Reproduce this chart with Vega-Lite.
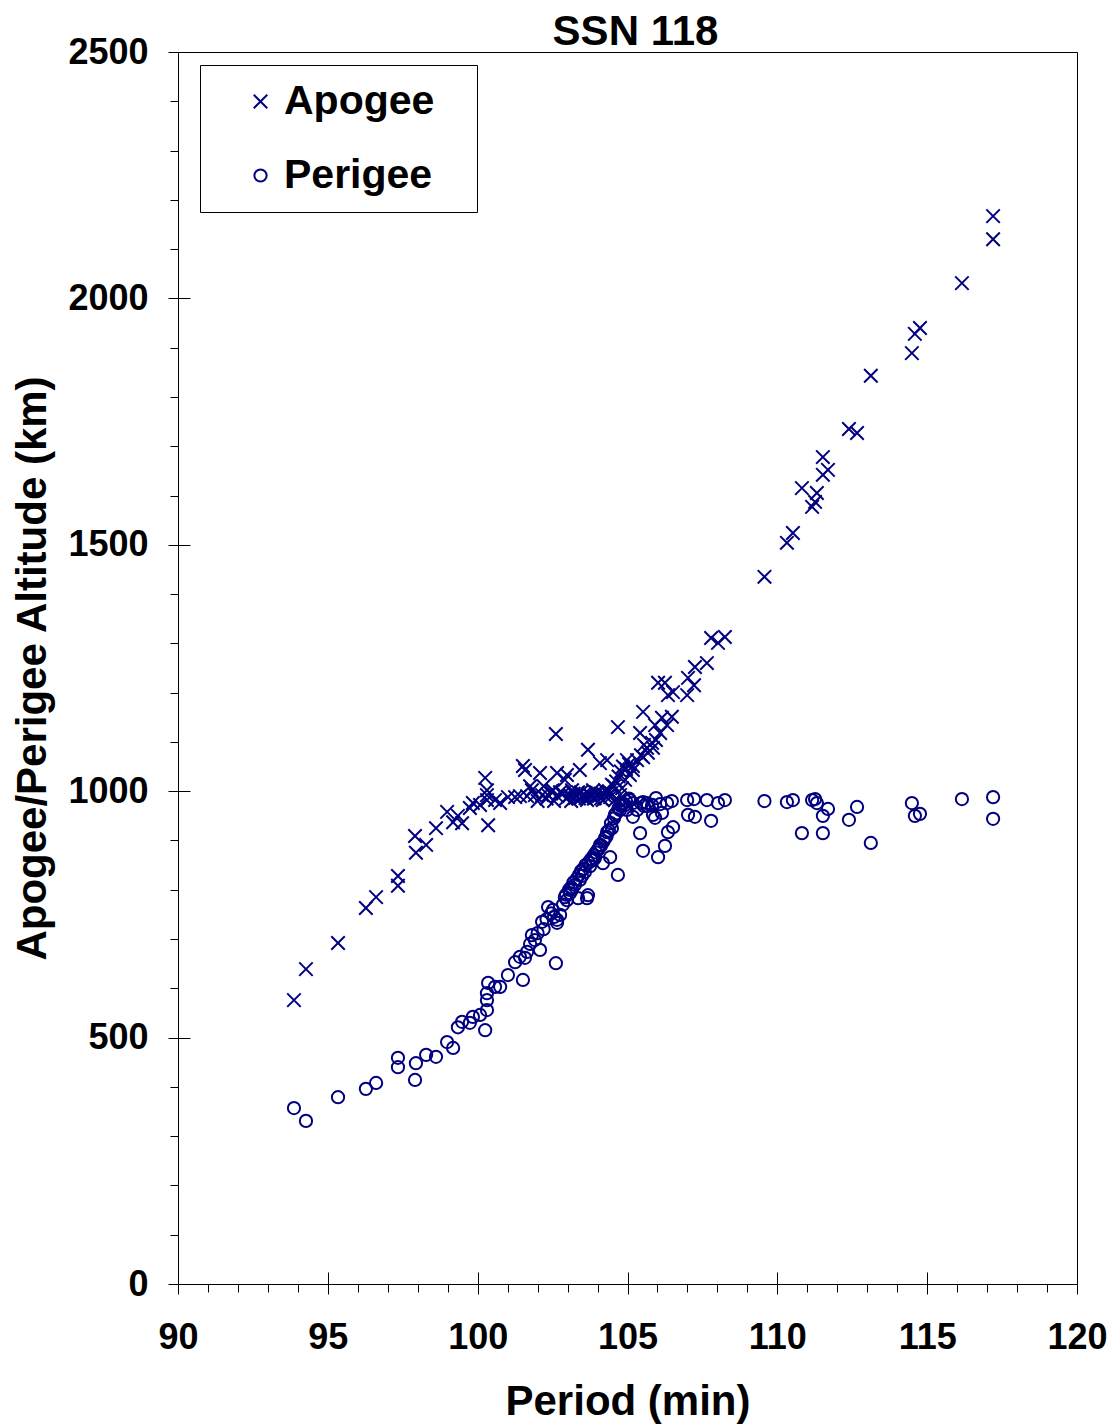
{
 "$schema": "https://vega.github.io/schema/vega-lite/v6.json",
 "width": 899, "height": 1232,
 "autosize": {"type": "none"},
 "padding": {"left": 178, "top": 52, "right": 38, "bottom": 142},
 "background": "white",
 "config": {
  "font": "Liberation Sans",
  "view": {"stroke": "black", "strokeWidth": 1},
  "axis": {"grid": false, "domainColor": "black", "tickColor": "black", "labelColor": "black", "titleColor": "black",
   "labelFont": "Liberation Sans", "labelFontWeight": "bold", "labelFontSize": 36,
   "titleFont": "Liberation Sans", "titleFontWeight": "bold", "titleFontSize": 42,
   "labelFlush": false, "labelOverlap": false, "labelBound": false, "format": "d"}
 },
 "title": {"text": "SSN 118", "fontSize": 42, "fontWeight": "bold", "font": "Liberation Sans", "color": "black", "anchor": "middle", "frame": "group", "baseline": "alphabetic", "offset": 10, "dx": 8, "dy": 63},
 "data": {"values": [
  {"p":93.87,"Apogee":576,"Perigee":357},{"p":94.27,"Apogee":639,"Perigee":331},{"p":95.34,"Apogee":692,"Perigee":379},
  {"p":96.27,"Apogee":763,"Perigee":396},{"p":96.61,"Apogee":785,"Perigee":408},{"p":97.34,"Apogee":828,"Perigee":440},
  {"p":97.34,"Apogee":808,"Perigee":459},{"p":97.91,"Apogee":909,"Perigee":414},{"p":97.94,"Apogee":875,"Perigee":448},
  {"p":98.28,"Apogee":891,"Perigee":465},{"p":98.61,"Apogee":925,"Perigee":461},{"p":98.98,"Apogee":958,"Perigee":491},
  {"p":99.18,"Apogee":937,"Perigee":479},{"p":99.34,"Apogee":950,"Perigee":521},{"p":99.48,"Apogee":935,"Perigee":532},
  {"p":99.74,"Apogee":966,"Perigee":530},{"p":99.84,"Apogee":976,"Perigee":542},{"p":100.08,"Apogee":972,"Perigee":546},
  {"p":100.25,"Apogee":1027,"Perigee":515},{"p":100.31,"Apogee":982,"Perigee":556},{"p":100.35,"Apogee":931,"Perigee":611},
  {"p":100.31,"Apogee":992,"Perigee":576},{"p":100.31,"Apogee":1002,"Perigee":590},{"p":100.58,"Apogee":982,"Perigee":603},
  {"p":100.75,"Apogee":976,"Perigee":603},{"p":101.01,"Apogee":988,"Perigee":627},{"p":101.25,"Apogee":988,"Perigee":653},
  {"p":101.41,"Apogee":990,"Perigee":664},{"p":101.51,"Apogee":1051,"Perigee":617},{"p":101.58,"Apogee":1043,"Perigee":662},
  {"p":101.65,"Apogee":990,"Perigee":674},{"p":101.75,"Apogee":1010,"Perigee":690},{"p":101.81,"Apogee":1002,"Perigee":708},
  {"p":101.91,"Apogee":992,"Perigee":698},{"p":102.0,"Apogee":980,"Perigee":712},{"p":102.08,"Apogee":1037,"Perigee":678},
  {"p":102.15,"Apogee":992,"Perigee":735},{"p":102.2,"Apogee":1010,"Perigee":720},{"p":102.3,"Apogee":985,"Perigee":740},
  {"p":102.35,"Apogee":992,"Perigee":765},{"p":102.45,"Apogee":1000,"Perigee":752},{"p":102.51,"Apogee":1002,"Perigee":759},
  {"p":102.55,"Apogee":980,"Perigee":745},{"p":102.61,"Apogee":1116,"Perigee":651},{"p":102.65,"Apogee":1037,"Perigee":733},
  {"p":102.65,"Apogee":990,"Perigee":739},{"p":102.75,"Apogee":998,"Perigee":749},{"p":102.85,"Apogee":995,"Perigee":770},
  {"p":102.91,"Apogee":1023,"Perigee":785},{"p":102.95,"Apogee":985,"Perigee":790},{"p":102.98,"Apogee":1033,"Perigee":779},
  {"p":103.05,"Apogee":990,"Perigee":800},{"p":103.08,"Apogee":992,"Perigee":793},{"p":103.12,"Apogee":980,"Perigee":805},
  {"p":103.15,"Apogee":1002,"Perigee":800},{"p":103.2,"Apogee":995,"Perigee":815},{"p":103.25,"Apogee":986,"Perigee":810},
  {"p":103.3,"Apogee":990,"Perigee":822},{"p":103.35,"Apogee":998,"Perigee":783},{"p":103.38,"Apogee":985,"Perigee":830},
  {"p":103.41,"Apogee":1043,"Perigee":820},{"p":103.45,"Apogee":998,"Perigee":838},{"p":103.48,"Apogee":988,"Perigee":828},
  {"p":103.52,"Apogee":992,"Perigee":842},{"p":103.58,"Apogee":992,"Perigee":836},{"p":103.6,"Apogee":986,"Perigee":850},
  {"p":103.65,"Apogee":982,"Perigee":783},{"p":103.68,"Apogee":1084,"Perigee":789},{"p":103.7,"Apogee":995,"Perigee":855},
  {"p":103.75,"Apogee":992,"Perigee":848},{"p":103.78,"Apogee":990,"Perigee":862},{"p":103.85,"Apogee":1002,"Perigee":860},
  {"p":103.88,"Apogee":985,"Perigee":870},{"p":103.91,"Apogee":986,"Perigee":864},{"p":103.95,"Apogee":998,"Perigee":876},
  {"p":104.01,"Apogee":996,"Perigee":881},{"p":104.05,"Apogee":990,"Perigee":884},{"p":104.08,"Apogee":1057,"Perigee":891},
  {"p":104.12,"Apogee":985,"Perigee":890},{"p":104.18,"Apogee":982,"Perigee":854},{"p":104.2,"Apogee":994,"Perigee":898},
  {"p":104.25,"Apogee":1002,"Perigee":905},{"p":104.3,"Apogee":988,"Perigee":908},{"p":104.32,"Apogee":1063,"Perigee":917},
  {"p":104.38,"Apogee":1000,"Perigee":920},{"p":104.42,"Apogee":988,"Perigee":866},{"p":104.45,"Apogee":996,"Perigee":935},
  {"p":104.48,"Apogee":1013,"Perigee":925},{"p":104.55,"Apogee":1010,"Perigee":945},{"p":104.58,"Apogee":982,"Perigee":952},
  {"p":104.62,"Apogee":1020,"Perigee":955},{"p":104.68,"Apogee":1130,"Perigee":830},{"p":104.7,"Apogee":1030,"Perigee":965},
  {"p":104.75,"Apogee":992,"Perigee":962},{"p":104.78,"Apogee":1040,"Perigee":970},{"p":104.82,"Apogee":1006,"Perigee":976},
  {"p":104.85,"Apogee":1050,"Perigee":975},{"p":104.92,"Apogee":1023,"Perigee":972},{"p":104.95,"Apogee":1045,"Perigee":980},
  {"p":104.98,"Apogee":1063,"Perigee":962},{"p":105.05,"Apogee":1055,"Perigee":985},{"p":105.08,"Apogee":1033,"Perigee":982},
  {"p":105.18,"Apogee":1043,"Perigee":948},{"p":105.18,"Apogee":1051,"Perigee":976},{"p":105.32,"Apogee":1063,"Perigee":962},
  {"p":105.42,"Apogee":1118,"Perigee":915},{"p":105.45,"Apogee":1073,"Perigee":976},{"p":105.52,"Apogee":1161,"Perigee":879},
  {"p":105.52,"Apogee":1069,"Perigee":978},{"p":105.55,"Apogee":1094,"Perigee":970},{"p":105.65,"Apogee":1088,"Perigee":976},
  {"p":105.68,"Apogee":1078,"Perigee":970},{"p":105.82,"Apogee":1098,"Perigee":972},{"p":105.85,"Apogee":1088,"Perigee":952},
  {"p":105.92,"Apogee":1134,"Perigee":946},{"p":105.95,"Apogee":1104,"Perigee":986},{"p":106.02,"Apogee":1220,"Perigee":866},
  {"p":106.09,"Apogee":1118,"Perigee":974},{"p":106.15,"Apogee":1149,"Perigee":956},{"p":106.25,"Apogee":1220,"Perigee":889},
  {"p":106.32,"Apogee":1134,"Perigee":976},{"p":106.35,"Apogee":1195,"Perigee":917},{"p":106.48,"Apogee":1151,"Perigee":980},
  {"p":106.52,"Apogee":1201,"Perigee":927},{"p":106.99,"Apogee":1195,"Perigee":982},{"p":107.02,"Apogee":1230,"Perigee":952},
  {"p":107.22,"Apogee":1215,"Perigee":984},{"p":107.25,"Apogee":1252,"Perigee":948},{"p":107.65,"Apogee":1260,"Perigee":982},
  {"p":107.79,"Apogee":1311,"Perigee":940},{"p":108.02,"Apogee":1301,"Perigee":976},{"p":108.25,"Apogee":1313,"Perigee":982},
  {"p":109.57,"Apogee":1435,"Perigee":980},{"p":110.32,"Apogee":1504,"Perigee":978},{"p":110.52,"Apogee":1524,"Perigee":982},
  {"p":110.82,"Apogee":1615,"Perigee":915},{"p":111.16,"Apogee":1577,"Perigee":982},{"p":111.26,"Apogee":1587,"Perigee":984},
  {"p":111.32,"Apogee":1605,"Perigee":976},{"p":111.52,"Apogee":1678,"Perigee":915},{"p":111.52,"Apogee":1642,"Perigee":950},
  {"p":111.69,"Apogee":1652,"Perigee":964},{"p":112.39,"Apogee":1735,"Perigee":942},{"p":112.66,"Apogee":1727,"Perigee":968},
  {"p":113.12,"Apogee":1843,"Perigee":895},{"p":114.49,"Apogee":1889,"Perigee":976},{"p":114.59,"Apogee":1928,"Perigee":950},
  {"p":114.76,"Apogee":1940,"Perigee":954},{"p":116.16,"Apogee":2031,"Perigee":984},{"p":117.2,"Apogee":2167,"Perigee":944},
  {"p":117.2,"Apogee":2120,"Perigee":988}
 ]},
 "transform": [{"fold": ["Apogee", "Perigee"], "as": ["type", "alt"]}],
 "layer": [
  {
   "mark": {"type": "point", "filled": false, "color": "#000080", "stroke": "#000080", "strokeWidth": 2, "size": 150, "opacity": 1},
   "encoding": {
    "x": {"field": "p", "type": "quantitative", "scale": {"domain": [90, 120], "nice": false, "zero": false},
     "axis": {"orient": "bottom", "values": [90, 95, 100, 105, 110, 115, 120], "tickSize": 10, "labelPadding": 26, "format": "d",
      "title": "Period (min)", "titleX": 449.5, "titleY": 130, "titleBaseline": "alphabetic", "titleAnchor": null}},
    "y": {"field": "alt", "type": "quantitative", "scale": {"domain": [0, 2500], "nice": false, "zero": false},
     "axis": {"orient": "left", "values": [0, 500, 1000, 1500, 2000, 2500], "tickSize": 10, "labelPadding": 20, "format": "d",
      "title": "Apogee/Perigee Altitude (km)", "titleX": -133, "titleY": 616, "titleAngle": -90, "titleBaseline": "alphabetic", "titleAlign": "center"}},
    "shape": {"field": "type", "type": "nominal",
     "scale": {"domain": ["Apogee", "Perigee"], "range": ["M-1.1,-1.1L1.1,1.1M-1.1,1.1L1.1,-1.1", "circle"]},
     "legend": {"orient": "none", "legendX": 22, "legendY": 13, "title": " ", "titleOrient": "right", "titlePadding": 27, "titleFontSize": 1,
      "padding": 16,
      "strokeColor": "black", "fillColor": "white", "symbolSize": 150, "symbolStrokeWidth": 2,
      "symbolStrokeColor": "#000080", "symbolFillColor": "transparent", "symbolOffset": 24, "labelOffset": 3,
      "labelFontSize": 41, "labelFont": "Liberation Sans", "labelFontWeight": "bold", "labelColor": "black", "labelLimit": 300,
      "rowPadding": 32}}
   }
  },
  {
   "mark": {"type": "point", "opacity": 0},
   "encoding": {
    "x": {"field": "p", "type": "quantitative",
     "axis": {"orient": "bottom", "values": [91,92,93,94,96,97,98,99,101,102,103,104,106,107,108,109,111,112,113,114,116,117,118,119], "tickSize": 8, "labels": false, "domain": false, "title": null}},
    "y": {"field": "alt", "type": "quantitative",
     "axis": {"orient": "left", "values": [100,200,300,400,600,700,800,900,1100,1200,1300,1400,1600,1700,1800,1900,2100,2200,2300,2400], "tickSize": 8, "labels": false, "domain": false, "title": null}}
   }
  },
  {
   "mark": {"type": "point", "opacity": 0},
   "encoding": {
    "x": {"field": "p", "type": "quantitative",
     "axis": {"orient": "bottom", "values": [90, 95, 100, 105, 110, 115, 120], "tickSize": -12, "labels": false, "domain": false, "title": null}},
    "y": {"field": "alt", "type": "quantitative",
     "axis": {"orient": "left", "values": [0, 500, 1000, 1500, 2000, 2500], "tickSize": -12, "labels": false, "domain": false, "title": null}}
   }
  }
 ],
 "resolve": {"axis": {"x": "independent", "y": "independent"}}
}
